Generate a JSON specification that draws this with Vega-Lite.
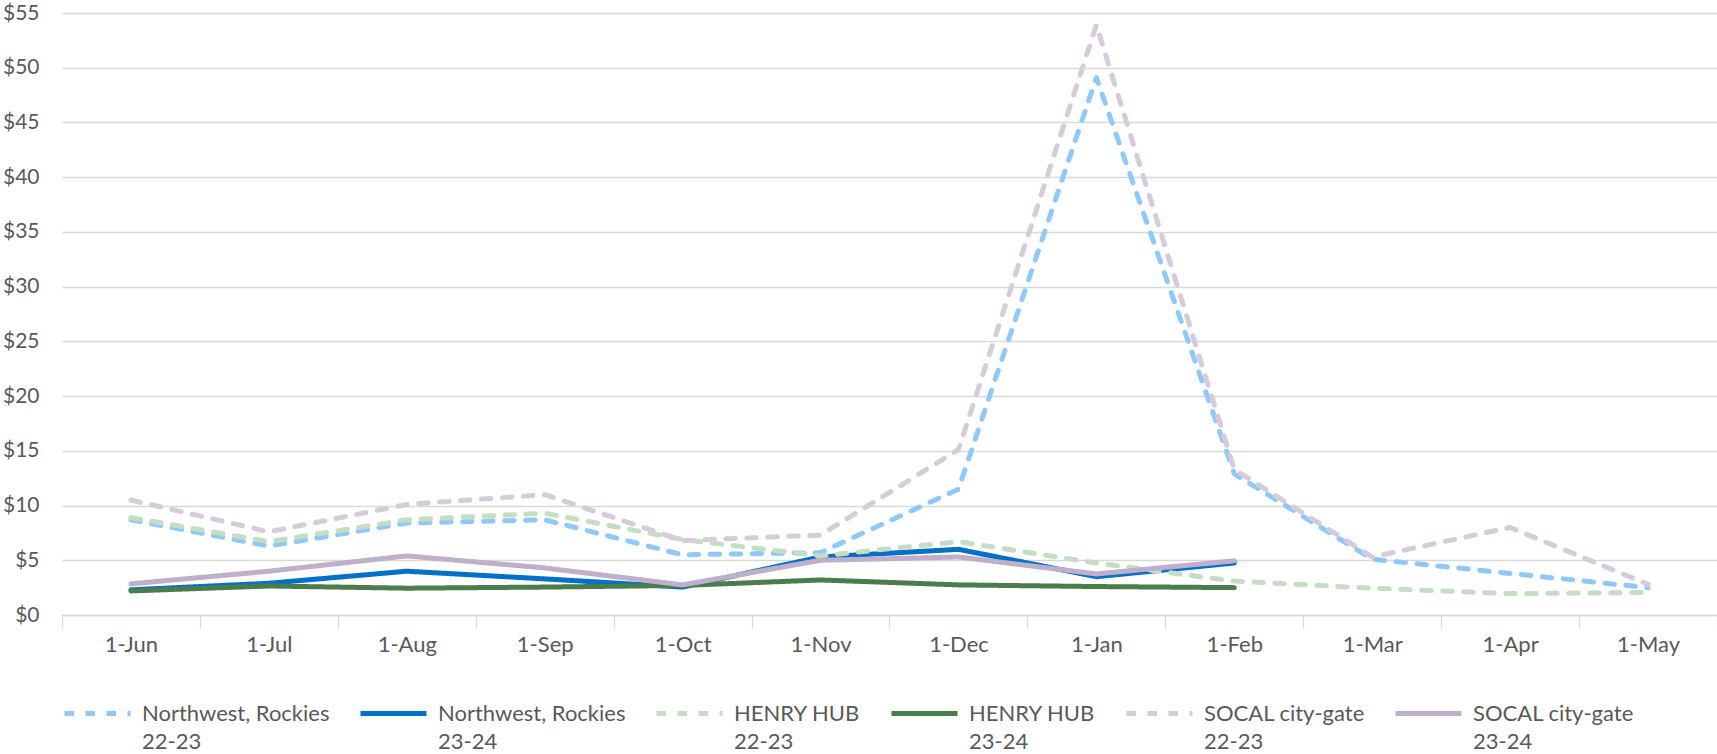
{
  "$schema": "https://vega.github.io/schema/vega-lite/v6.json",
  "width": 1655,
  "height": 602,
  "autosize": {"type": "none"},
  "padding": {"left": 62, "top": 13, "right": 0, "bottom": 139},
  "background": "white",
  "data": {
    "values": [
      {"month": "1-Jun", "series": "Northwest, Rockies|22-23", "value": 8.7},
      {"month": "1-Jul", "series": "Northwest, Rockies|22-23", "value": 6.3},
      {"month": "1-Aug", "series": "Northwest, Rockies|22-23", "value": 8.4},
      {"month": "1-Sep", "series": "Northwest, Rockies|22-23", "value": 8.7},
      {"month": "1-Oct", "series": "Northwest, Rockies|22-23", "value": 5.5},
      {"month": "1-Nov", "series": "Northwest, Rockies|22-23", "value": 5.7},
      {"month": "1-Dec", "series": "Northwest, Rockies|22-23", "value": 11.5},
      {"month": "1-Jan", "series": "Northwest, Rockies|22-23", "value": 49.1},
      {"month": "1-Feb", "series": "Northwest, Rockies|22-23", "value": 12.9},
      {"month": "1-Mar", "series": "Northwest, Rockies|22-23", "value": 5.1},
      {"month": "1-Apr", "series": "Northwest, Rockies|22-23", "value": 3.8},
      {"month": "1-May", "series": "Northwest, Rockies|22-23", "value": 2.5},
      {"month": "1-Jun", "series": "Northwest, Rockies|23-24", "value": 2.3},
      {"month": "1-Jul", "series": "Northwest, Rockies|23-24", "value": 2.9},
      {"month": "1-Aug", "series": "Northwest, Rockies|23-24", "value": 4.0},
      {"month": "1-Sep", "series": "Northwest, Rockies|23-24", "value": 3.3},
      {"month": "1-Oct", "series": "Northwest, Rockies|23-24", "value": 2.55},
      {"month": "1-Nov", "series": "Northwest, Rockies|23-24", "value": 5.3},
      {"month": "1-Dec", "series": "Northwest, Rockies|23-24", "value": 6.0},
      {"month": "1-Jan", "series": "Northwest, Rockies|23-24", "value": 3.5},
      {"month": "1-Feb", "series": "Northwest, Rockies|23-24", "value": 4.75},
      {"month": "1-Jun", "series": "HENRY HUB|22-23", "value": 8.9},
      {"month": "1-Jul", "series": "HENRY HUB|22-23", "value": 6.7},
      {"month": "1-Aug", "series": "HENRY HUB|22-23", "value": 8.7},
      {"month": "1-Sep", "series": "HENRY HUB|22-23", "value": 9.3},
      {"month": "1-Oct", "series": "HENRY HUB|22-23", "value": 6.9},
      {"month": "1-Nov", "series": "HENRY HUB|22-23", "value": 5.4},
      {"month": "1-Dec", "series": "HENRY HUB|22-23", "value": 6.7},
      {"month": "1-Jan", "series": "HENRY HUB|22-23", "value": 4.75},
      {"month": "1-Feb", "series": "HENRY HUB|22-23", "value": 3.1},
      {"month": "1-Mar", "series": "HENRY HUB|22-23", "value": 2.45},
      {"month": "1-Apr", "series": "HENRY HUB|22-23", "value": 1.95},
      {"month": "1-May", "series": "HENRY HUB|22-23", "value": 2.05},
      {"month": "1-Jun", "series": "HENRY HUB|23-24", "value": 2.2},
      {"month": "1-Jul", "series": "HENRY HUB|23-24", "value": 2.65},
      {"month": "1-Aug", "series": "HENRY HUB|23-24", "value": 2.45},
      {"month": "1-Sep", "series": "HENRY HUB|23-24", "value": 2.55},
      {"month": "1-Oct", "series": "HENRY HUB|23-24", "value": 2.7},
      {"month": "1-Nov", "series": "HENRY HUB|23-24", "value": 3.2},
      {"month": "1-Dec", "series": "HENRY HUB|23-24", "value": 2.75},
      {"month": "1-Jan", "series": "HENRY HUB|23-24", "value": 2.6},
      {"month": "1-Feb", "series": "HENRY HUB|23-24", "value": 2.5},
      {"month": "1-Jun", "series": "SOCAL city-gate|22-23", "value": 10.5},
      {"month": "1-Jul", "series": "SOCAL city-gate|22-23", "value": 7.6},
      {"month": "1-Aug", "series": "SOCAL city-gate|22-23", "value": 10.1},
      {"month": "1-Sep", "series": "SOCAL city-gate|22-23", "value": 11.0},
      {"month": "1-Oct", "series": "SOCAL city-gate|22-23", "value": 6.8},
      {"month": "1-Nov", "series": "SOCAL city-gate|22-23", "value": 7.3},
      {"month": "1-Dec", "series": "SOCAL city-gate|22-23", "value": 15.1},
      {"month": "1-Jan", "series": "SOCAL city-gate|22-23", "value": 53.9},
      {"month": "1-Feb", "series": "SOCAL city-gate|22-23", "value": 13.3},
      {"month": "1-Mar", "series": "SOCAL city-gate|22-23", "value": 5.3},
      {"month": "1-Apr", "series": "SOCAL city-gate|22-23", "value": 8.0},
      {"month": "1-May", "series": "SOCAL city-gate|22-23", "value": 2.8},
      {"month": "1-Jun", "series": "SOCAL city-gate|23-24", "value": 2.85},
      {"month": "1-Jul", "series": "SOCAL city-gate|23-24", "value": 4.0},
      {"month": "1-Aug", "series": "SOCAL city-gate|23-24", "value": 5.4},
      {"month": "1-Sep", "series": "SOCAL city-gate|23-24", "value": 4.3},
      {"month": "1-Oct", "series": "SOCAL city-gate|23-24", "value": 2.75},
      {"month": "1-Nov", "series": "SOCAL city-gate|23-24", "value": 5.0},
      {"month": "1-Dec", "series": "SOCAL city-gate|23-24", "value": 5.3},
      {"month": "1-Jan", "series": "SOCAL city-gate|23-24", "value": 3.75},
      {"month": "1-Feb", "series": "SOCAL city-gate|23-24", "value": 4.95}
    ]
  },
  "mark": {"type": "line", "strokeWidth": 5, "strokeCap": "round", "strokeJoin": "round"},
  "encoding": {
    "x": {
      "field": "month",
      "type": "ordinal",
      "sort": ["1-Jun", "1-Jul", "1-Aug", "1-Sep", "1-Oct", "1-Nov", "1-Dec", "1-Jan", "1-Feb", "1-Mar", "1-Apr", "1-May"],
      "scale": {"type": "band", "paddingInner": 0, "paddingOuter": 0},
      "axis": {
        "title": null,
        "labelAngle": 0,
        "tickBand": "extent",
        "tickSize": 13,
        "tickColor": "#D9D9D9",
        "tickWidth": 1.3,
        "domainColor": "#D9D9D9",
        "domainWidth": 1.3,
        "labelPadding": 6,
        "labelFontSize": 22,
        "grid": false
      }
    },
    "y": {
      "field": "value",
      "type": "quantitative",
      "scale": {"domain": [0, 55], "nice": false},
      "axis": {
        "title": null,
        "values": [0, 5, 10, 15, 20, 25, 30, 35, 40, 45, 50, 55],
        "format": "$,.0f",
        "domain": false,
        "ticks": false,
        "labelPadding": 23,
        "labelFontSize": 21,
        "gridColor": "#D9D9D9",
        "gridWidth": 1.3
      }
    },
    "color": {
      "field": "series",
      "type": "nominal",
      "sort": null,
      "scale": {
        "domain": ["Northwest, Rockies|22-23", "Northwest, Rockies|23-24", "HENRY HUB|22-23", "HENRY HUB|23-24", "SOCAL city-gate|22-23", "SOCAL city-gate|23-24"],
        "range": ["#8DC9FA", "#0070C8", "#C5DDC3", "#4A7C4C", "#D6CADB", "#BFAFCB"]
      },
      "legend": {
        "title": null,
        "orient": "none",
        "legendX": 0,
        "legendY": 665,
        "direction": "horizontal",
        "symbolType": "stroke",
        "symbolSize": 4356,
        "symbolStrokeWidth": 5,
        "labelExpr": "split(datum.label, '|')",
        "labelLimit": 300,
        "labelOffset": 9,
        "columnPadding": 20,
        "labelBaseline": "middle"
      }
    },
    "strokeDash": {
      "field": "series",
      "type": "nominal",
      "sort": null,
      "scale": {
        "domain": ["Northwest, Rockies|22-23", "Northwest, Rockies|23-24", "HENRY HUB|22-23", "HENRY HUB|23-24", "SOCAL city-gate|22-23", "SOCAL city-gate|23-24"],
        "range": [[9.5, 11.5], [1, 0], [9.5, 11.5], [1, 0], [9.5, 11.5], [1, 0]]
      },
      "legend": null
    }
  },
  "config": {
    "font": "Lato",
    "view": {"stroke": null},
    "axis": {"labelFont": "Lato", "labelColor": "#595959"},
    "legend": {"labelFont": "Lato", "labelFontSize": 22, "labelColor": "#595959"},
    "style": {"guide-label": {"lineHeight": 28.5}}
  }
}
